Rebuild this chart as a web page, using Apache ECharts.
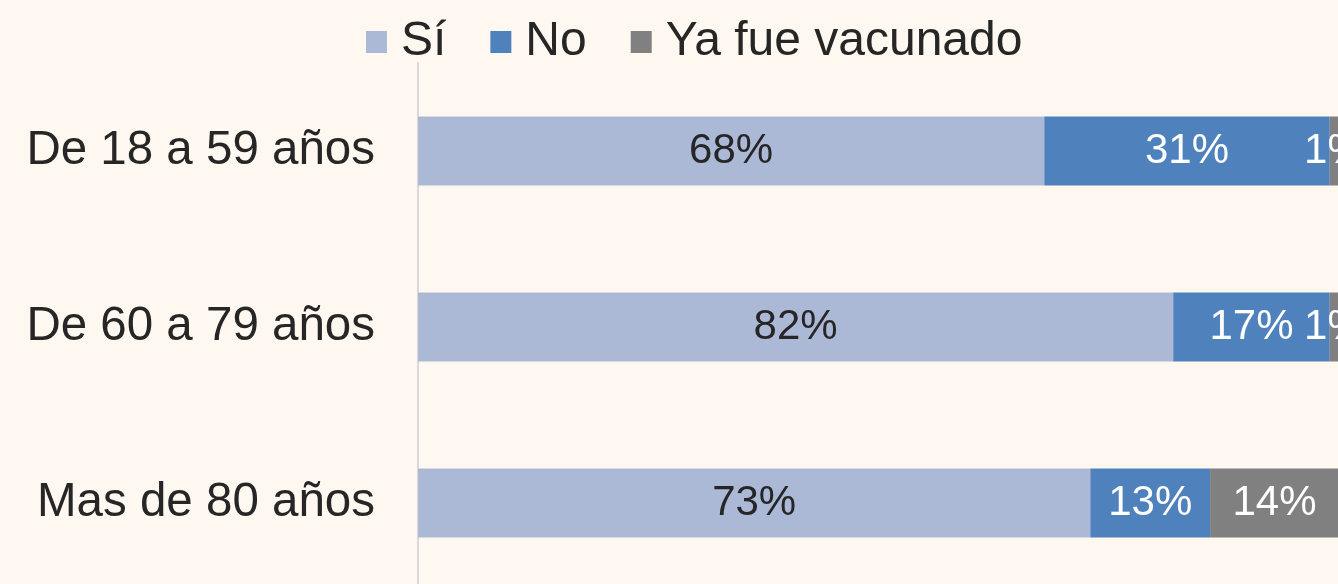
<!DOCTYPE html>
<html>
<head>
<meta charset="utf-8">
<script src="https://cdn.jsdelivr.net/npm/echarts@6/dist/echarts.min.js"></script>
<style>
  html, body { margin: 0; padding: 0; background: #FEF8F1; }
  #main { width: 1338px; height: 584px; }
</style>
</head>
<body>
<div id="main"></div>
<script>
// categories (top to bottom)
const ageGroups = ["De 18 a 59 años", "De 60 a 79 años", "Mas de 80 años"];
// percentages per answer
const siValues = [68, 82, 73];
const noValues = [31, 17, 13];
const vacunadoValues = [1, 1, 14];

const font = "'Liberation Sans', Arial, sans-serif";

let myChart = echarts.init(document.getElementById("main"));

function barSeries(name, data, color, labelColor) {
  return {
    name: name,
    type: "bar",
    stack: "total",
    data: data,
    barWidth: 69,
    itemStyle: { color: color },
    label: {
      show: true,
      position: "inside",
      formatter: "{c}%",
      color: labelColor,
      fontSize: 42,
      fontFamily: font,
    },
  };
}

var option = {
  backgroundColor: "#FEF8F1",
  animation: false,
  legend: {
    left: 361,
    top: 13,
    itemWidth: 21,
    itemHeight: 22,
    itemGap: 44,
    icon: "rect",
    textStyle: {
      fontSize: 48,
      fontFamily: font,
      color: "#262626",
      padding: [0, 0, 0, 9],
      lineHeight: 48,
    },
    data: ["Sí", "No", "Ya fue vacunado"],
  },
  grid: {
    left: 418,
    top: 63,
    width: 921,
    height: 528,
    containLabel: false,
    outerBoundsMode: "none",
  },
  xAxis: {
    type: "value",
    min: 0,
    max: 100,
    show: false,
  },
  yAxis: {
    type: "category",
    inverse: true,
    data: ageGroups,
    axisTick: { show: false },
    axisLine: { show: true, lineStyle: { color: "#D9D9D9", width: 2 } },
    axisLabel: {
      margin: 43,
      fontSize: 47.5,
      fontFamily: font,
      color: "#262626",
    },
  },
  series: [
    barSeries("Sí", siValues, "#ABB9D6", "#262626"),
    barSeries("No", noValues, "#4F81BD", "#FFFFFF"),
    barSeries("Ya fue vacunado", vacunadoValues, "#808080", "#FFFFFF"),
  ],
};

myChart.setOption(option);
</script>
</body>
</html>
